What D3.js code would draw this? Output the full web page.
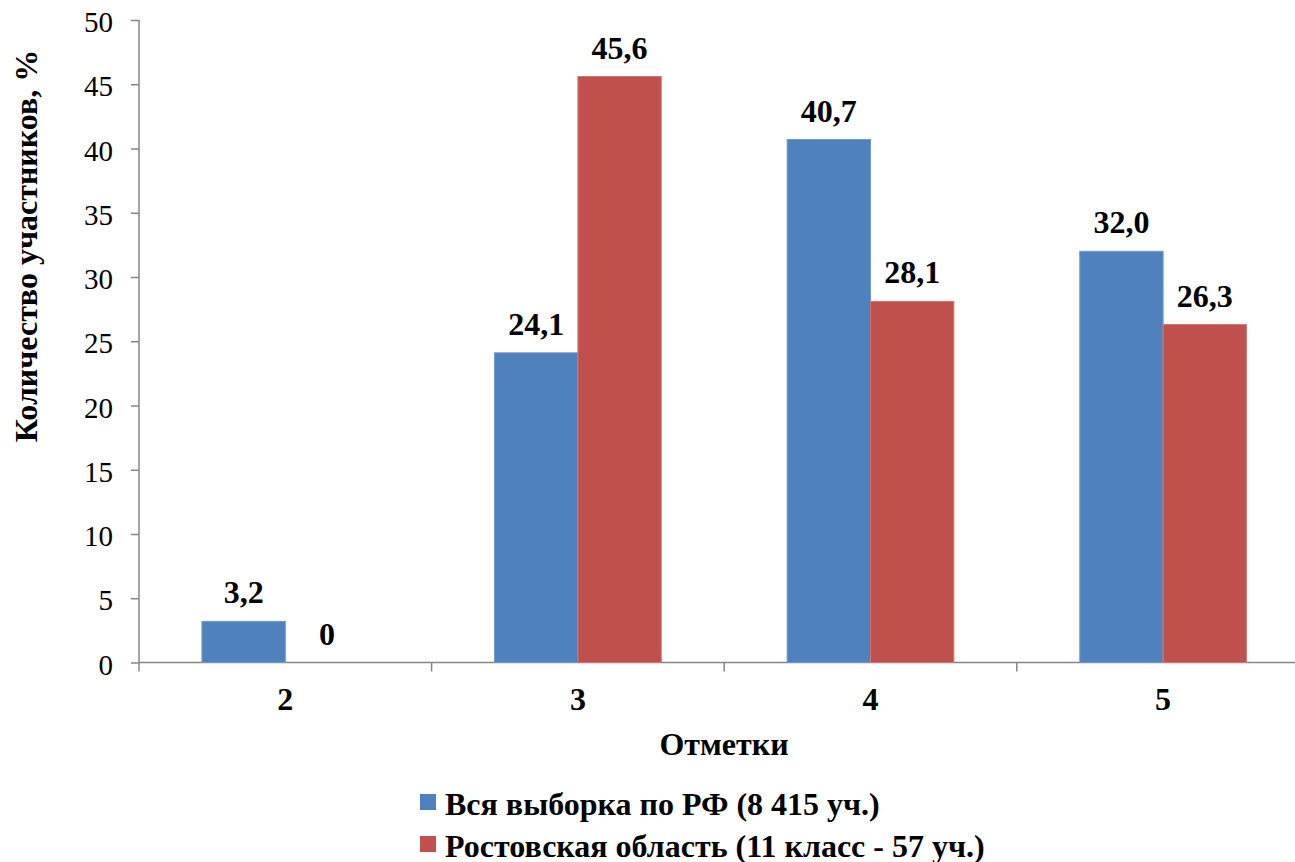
<!DOCTYPE html>
<html><head><meta charset="utf-8">
<script src="https://cdn.jsdelivr.net/npm/d3@7"></script>
<style>body{margin:0;background:#fff}svg{display:block}</style>
</head><body>
<svg id="c" width="1295" height="862"></svg>
<script>
const categories = ["2","3","4","5"];
const seriesNames = ["Вся выборка по РФ (8 415 уч.)","Ростовская область (11 класс - 57 уч.)"];
const seriesRF = [3.2, 24.1, 40.7, 32.0];
const seriesRostov = [0, 45.6, 28.1, 26.3];
const labelsRF = ["3,2","24,1","40,7","32,0"];
const labelsRostov = ["0","45,6","28,1","26,3"];
const yTicks = [0,5,10,15,20,25,30,35,40,45,50];
const colors = ["#4F81BD","#C0504D"];
const strokes = ["#6f98cc","#d27471"];

(function(){
const FONT = "Liberation Serif";
const svg = d3.select("#c");
const mLeft = 139, mTop = 20, mBottom = 662.5;
const band = 292.6;
const mRight = mLeft + band*4;

const x = d3.scaleBand().domain(categories).range([mLeft, mRight]).paddingInner(0).paddingOuter(0);
const y = d3.scaleLinear().domain([0,50]).range([mBottom, mTop]);
const barW = band*0.2848;
const xs = d3.scaleBand().domain([0,1]).range([0, barW*2]);

// y axis
const ya = svg.append("g").attr("transform",`translate(${mLeft},0)`)
  .attr("font-family",FONT)
  .call(d3.axisLeft(y).tickValues(yTicks).tickSize(8).tickPadding(18).tickFormat(d3.format("d")));
ya.attr("font-family",FONT);
ya.select(".domain").attr("stroke","#868686").attr("stroke-width",1.5).attr("d",`M0,${mTop}V${mBottom}`);
ya.selectAll(".tick line").attr("stroke","#868686").attr("stroke-width",1.5);
ya.selectAll(".tick text").attr("font-size",29).attr("fill","#000").attr("font-family",FONT).attr("dy","0.4em");

// x axis
const xa = svg.append("g").attr("transform",`translate(0,${mBottom})`)
  .call(d3.axisBottom(x).tickSize(0).tickPadding(25));
xa.attr("font-family",FONT);
xa.select(".domain").attr("stroke","#868686").attr("stroke-width",1.5).attr("d",`M${mLeft},0H${mRight}`);
xa.selectAll(".tick text").attr("font-size",32).attr("font-weight","bold").attr("fill","#000").attr("font-family",FONT).attr("dy","0").attr("y",47.5);
const seps = d3.range(categories.length+1).map(i=>mLeft + i*band);
xa.selectAll("line.sep").data(seps).enter().append("line").attr("class","sep")
  .attr("x1",d=>d).attr("x2",d=>d).attr("y1",0).attr("y2",9)
  .attr("stroke","#868686").attr("stroke-width",1.5);

const series = [seriesRF, seriesRostov];
const labels = [labelsRF, labelsRostov];
series.forEach((vals, si) => {
  const g = svg.append("g");
  g.selectAll("rect").data(vals).enter().append("rect")
    .attr("x",(d,i)=>x(categories[i]) + band/2 - barW + xs(si))
    .attr("y",d=>y(d))
    .attr("width",barW)
    .attr("height",d=>mBottom - y(d))
    .attr("fill",colors[si])
    .attr("stroke",d=>d>0?strokes[si]:"none").attr("stroke-width",1);
  g.selectAll("text").data(vals).enter().append("text")
    .attr("x",(d,i)=>x(categories[i]) + band/2 - barW + xs(si) + barW/2)
    .attr("y",d=>y(d) - 18)
    .attr("text-anchor","middle")
    .attr("font-family",FONT)
    .attr("font-size",32).attr("font-weight","bold").attr("fill","#000")
    .text((d,i)=>labels[si][i]);
});

svg.append("text").attr("x",724).attr("y",755)
  .attr("text-anchor","middle").attr("font-family",FONT).attr("font-size",32).attr("font-weight","bold").text("Отметки");
svg.append("text").attr("transform","translate(37,246) rotate(-90)")
  .attr("text-anchor","middle").attr("font-family",FONT).attr("font-size",32).attr("font-weight","bold").text("Количество участников, %");

const lg = svg.append("g");
seriesNames.forEach((n,i)=>{
  const yy = 815 + i*42;
  lg.append("rect").attr("x",420).attr("y",yy-21).attr("width",16).attr("height",16).attr("fill",colors[i]);
  lg.append("text").attr("x",445).attr("y",yy).attr("font-family",FONT).attr("font-size",32).attr("font-weight","bold").text(n);
});
})();
</script>
</body></html>
